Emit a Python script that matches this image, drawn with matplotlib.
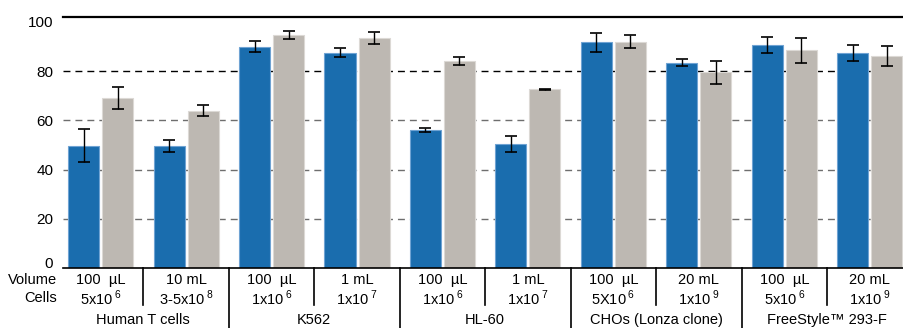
import numpy as np
import matplotlib.pyplot as plt
import matplotlib.transforms as mtransforms
from matplotlib.lines import Line2D

plt.rcParams['font.family'] = ['Liberation Sans', 'DejaVu Sans']
plt.rcParams['mathtext.fontset'] = 'custom'
plt.rcParams['mathtext.rm'] = 'Liberation Sans'

groups = ['Human T cells', 'K562', 'HL-60', 'CHOs (Lonza clone)', 'FreeStyle\u2122 293-F']
volumes = ['100  \u00b5L', '10 mL', '100  \u00b5L', '1 mL', '100  \u00b5L', '1 mL',
           '100  \u00b5L', '20 mL', '100  \u00b5L', '20 mL']
cells_base = ['5x10', '3-5x10', '1x10', '1x10', '1x10', '1x10', '5X10', '1x10', '5x10', '1x10']
cells_exp = ['6', '8', '6', '7', '6', '7', '6', '9', '6', '9']

blue = [49.7, 49.5, 90.0, 87.5, 56.0, 50.5, 91.7, 83.5, 90.5, 87.5]
blue_err = [6.6, 2.5, 2.3, 1.7, 0.8, 3.3, 3.8, 1.5, 3.2, 3.2]
gray = [69.0, 64.0, 94.8, 93.5, 84.0, 72.6, 92.0, 79.6, 88.4, 86.2]
gray_err = [4.4, 2.2, 1.6, 2.3, 1.6, 0.2, 2.7, 4.7, 4.9, 4.0]

fs = 10.5
fig = plt.figure(figsize=(9.04, 3.28), dpi=100)
ax = fig.add_axes([63 / 904, 1 - 268 / 328, 841 / 904, 251 / 328])

x = np.arange(len(blue))
w = 0.363
off = 0.199

for v, c in [(20, '#6e6e6e'), (40, '#6e6e6e'), (60, '#6e6e6e'), (80, 'black')]:
    ax.axhline(v, color=c, lw=1.0, ls=(0, (5, 3.6)), zorder=0)

ax.bar(x - off, blue, w, color='#1a6dae', edgecolor='#6fa3d3', linewidth=0.8, zorder=2)
ax.bar(x + off, gray, w, color='#bdb8b2', edgecolor='#dcd9d5', linewidth=0.8, zorder=2)
ax.errorbar(x - off, blue, yerr=blue_err, fmt='none', ecolor='black', elinewidth=1.0,
            capsize=4.3, capthick=1.2, zorder=3)
ax.errorbar(x + off, gray, yerr=gray_err, fmt='none', ecolor='black', elinewidth=1.0,
            capsize=4.3, capthick=1.2, zorder=3)

ax.set_xlim(-0.44, 9.4)
ax.set_ylim(0, 102)
ax.set_yticks([0, 20, 40, 60, 80, 100])
ax.tick_params(axis='y', length=0, pad=7, labelsize=fs + 0.5)
ax.set_xticks([])
for s in ['left', 'right']:
    ax.spines[s].set_visible(False)
ax.spines['top'].set_linewidth(1.6)
ax.spines['bottom'].set_linewidth(1.2)

# lift the "0" label a little, as in the original
lab0 = ax.get_yticklabels()[0]
lab0.set_transform(lab0.get_transform() + mtransforms.ScaledTranslation(0, 4 / 72, fig.dpi_scale_trans))

xt = ax.get_xaxis_transform()
for i in range(len(blue)):
    ax.annotate(volumes[i], (i, 0), xycoords=xt, xytext=(0, -8.5), textcoords='offset points',
                ha='center', va='center', fontsize=fs)
    ax.annotate(cells_base[i] + r'$\,^{' + cells_exp[i] + '}$', (i, 0), xycoords=xt,
                xytext=(0, -21.5), textcoords='offset points', ha='center', va='center', fontsize=fs)
for g, name in enumerate(groups):
    ax.annotate(name, (2 * g + 0.5, 0), xycoords=xt, xytext=(0, -37.5), textcoords='offset points',
                ha='center', va='center', fontsize=fs)

ax.annotate('Volume', (0, 0), xycoords='axes fraction', xytext=(-4.5, -8.5), textcoords='offset points',
            ha='right', va='center', fontsize=fs)
ax.annotate('Cells', (0, 0), xycoords='axes fraction', xytext=(-4.5, -21.5), textcoords='offset points',
            ha='right', va='center', fontsize=fs)

# separators under the axis
for i in range(len(blue) - 1):
    xs = i + 0.5
    y1 = -0.239 if i % 2 == 1 else -0.147
    ax.add_line(Line2D([xs, xs], [0, y1], transform=xt, color='black', lw=1.2, clip_on=False))

fig.savefig('out.png', dpi=100)
